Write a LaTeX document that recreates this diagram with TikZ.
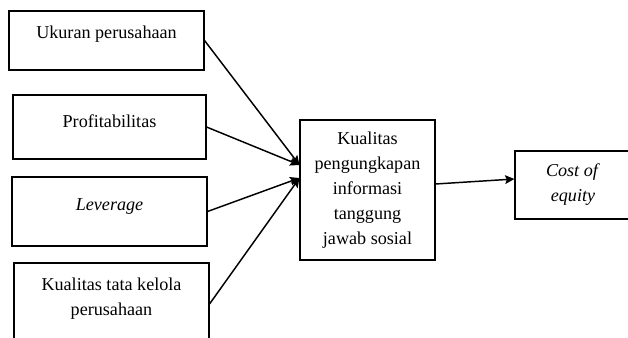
\documentclass[tikz,border=0pt]{standalone}
\usepackage{fontspec}
\setmainfont{Liberation Serif}
\usetikzlibrary{arrows.meta}

\begin{document}
\begin{tikzpicture}[x=0.75pt, y=-0.75pt]

        % Styles for the boxes and the arrows
        \tikzstyle{varbox} = [rectangle, draw=black, line width=0.8pt, text centered, align=center, inner sep=0pt, font=\fontsize{13.6pt}{18.75pt}\selectfont]
        \tikzstyle{arrow} = [line width=1.1pt,-{Stealth[length=7pt,width=6.5pt,inset=1.2pt]}]

        % Frame of the picture
        \clip (0,0) rectangle (628,338);
        \useasboundingbox (0,0) rectangle (628,338);

        % Independent variables
        \node (ukuran) [varbox, minimum width=146.25pt, minimum height=44.25pt, text depth=13pt] at (106.5,40.5) {Ukuran perusahaan};
        \node (profit) [varbox, minimum width=144.75pt, minimum height=48pt, text depth=9.3pt] at (109.5,127) {Profitabilitas};
        \node (leverage) [varbox, minimum width=146.25pt, minimum height=51.75pt, text depth=10pt] at (109.5,211.5) {\textit{Leverage}};
        \node (tatakelola) [varbox, minimum width=146.25pt, minimum height=61.5pt, text depth=11.5pt] at (111.5,304) {Kualitas tata kelola\\perusahaan};

        % Intervening variable and dependent variable
        \node (csr) [varbox, minimum width=101.25pt, minimum height=105pt] at (367.5,190) {Kualitas\\pengungkapan\\informasi\\tanggung\\jawab sosial};
        \node (coe) [varbox, minimum width=87pt, minimum height=51pt] at (573,185) {\textit{Cost of}\\\textit{equity}};

        % Arrows
        \draw [arrow] (ukuran.east) -- ([yshift=18.75pt]csr.west);
        \draw [arrow] (profit.east) -- ([yshift=18.75pt]csr.west);
        \draw [arrow] (leverage.east) -- ([yshift=9pt]csr.west);
        \draw [arrow] (tatakelola.east) -- ([yshift=9pt]csr.west);
        \draw [arrow] ([yshift=4.5pt]csr.east) -- ([yshift=4.5pt]coe.west);

\end{tikzpicture}
\end{document}
